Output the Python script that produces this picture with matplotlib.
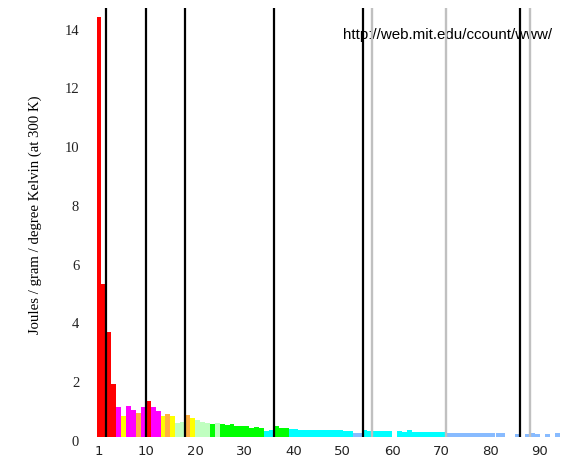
import numpy as np
import matplotlib
matplotlib.use("Agg")
import matplotlib.pyplot as plt
from matplotlib.transforms import ScaledTranslation

# atomic numbers and specific heat (J/g/K at 300 K); None = no bar
atomic_numbers = list(range(1, 95))
specific_heat = [
    14.30, 5.19, 3.58, 1.82, 1.03, 0.71, 1.04, 0.92, 0.82, 1.03,   # 1-10
    1.23, 1.02, 0.90, 0.71, 0.77, 0.71, 0.48, 0.52, 0.76, 0.65,    # 11-20
    0.57, 0.52, 0.49, 0.45, 0.48, 0.45, 0.42, 0.44, 0.39, 0.39,    # 21-30
    0.37, 0.32, 0.33, 0.32, 0.22, 0.25, 0.36, 0.30, 0.30, 0.27,    # 31-40
    0.26, 0.25, 0.25, 0.23, 0.24, 0.24, 0.235, 0.23, 0.23, 0.23,   # 41-50
    0.21, 0.20, 0.14, 0.145, 0.24, 0.20, 0.195, 0.19, 0.19, 0.19,  # 51-60
    None, 0.20, 0.18, 0.235, 0.18, 0.17, 0.165, 0.17, 0.16, 0.155, # 61-70
    0.155, 0.144, 0.140, 0.132, 0.137, 0.130, 0.131, 0.133, 0.129, 0.140,  # 71-80
    0.129, 0.129, 0.122, None, None, 0.094, None, 0.094, 0.12, 0.118,      # 81-90
    None, 0.116, None, 0.13,                                        # 91-94
]
period_ends = [2, 10, 18, 36, 54, 86]
block_ends = [56, 71, 88]
xtick_labels = [1, 10, 20, 30, 40, 50, 60, 70, 80, 90]
ytick_values = [0, 2, 4, 6, 8, 10, 12, 14]

# colour bands by value
band_edges = [0.15, 0.29, 0.46, 0.60, 0.73, 0.86, 1.10]
band_colors = ["#88BBFF", "#00FFFF", "#00FF00", "#C0FFC0", "#FFFF00",
               "#FFB040", "#FF00FF", "#FF0000"]

xs = [z for z, v in zip(atomic_numbers, specific_heat) if v is not None]
vs = [v for v in specific_heat if v is not None]
cols = [band_colors[int(np.searchsorted(band_edges, v, side="right"))] for v in vs]

W, H = 562, 461
fig = plt.figure(figsize=(W / 100, H / 100), dpi=100)
left_px, right_px, top_px, bot_px = 96.5, 562, 8, 437
ax = fig.add_axes([left_px / W, 1 - bot_px / H, (right_px - left_px) / W,
                   (bot_px - top_px) / H])

ax.bar(xs, vs, width=1.0, color=cols, linewidth=0, zorder=2)

for p in block_ends:
    ax.axvline(p + 0.5, color="#C0C0C0", linewidth=1.7, zorder=3)
for p in period_ends:
    ax.axvline(p + 0.5, color="black", linewidth=1.6, zorder=4)

ax.set_xlim(0.5, 95.0)
ax.set_ylim(0, 14.6)

for s in ax.spines.values():
    s.set_visible(False)

ax.set_xticks([t + (0.5 if t >= 10 else 0) for t in xtick_labels])
ax.set_xticklabels([str(t) for t in xtick_labels], fontsize=9.5,
                   family="DejaVu Sans", color="#222222")
ax.set_yticks(ytick_values)
ax.set_yticklabels([str(t) for t in ytick_values], fontsize=10.5,
                   family="Liberation Serif", color="#222222")
ax.tick_params(axis="both", length=0)
ax.tick_params(axis="x", pad=6)
ax.tick_params(axis="y", pad=12.5)
off = ScaledTranslation(0, -4 / 100, fig.dpi_scale_trans)
for lab in ax.get_yticklabels():
    lab.set_transform(lab.get_transform() + off)

ax.set_ylabel("Joules / gram / degree Kelvin (at 300 K)", family="Liberation Serif",
              fontsize=10.6)
ax.yaxis.set_label_coords((42 - left_px) / (right_px - left_px),
                          (bot_px - 215) / (bot_px - top_px))

ax.text(448 / W, 1 - 35 / H, "http://web.mit.edu/ccount/www/",
        transform=fig.transFigure, family="Liberation Sans", fontsize=10.9,
        ha="center", va="center", zorder=1, clip_on=False)

fig.savefig("out.png", dpi=100)
